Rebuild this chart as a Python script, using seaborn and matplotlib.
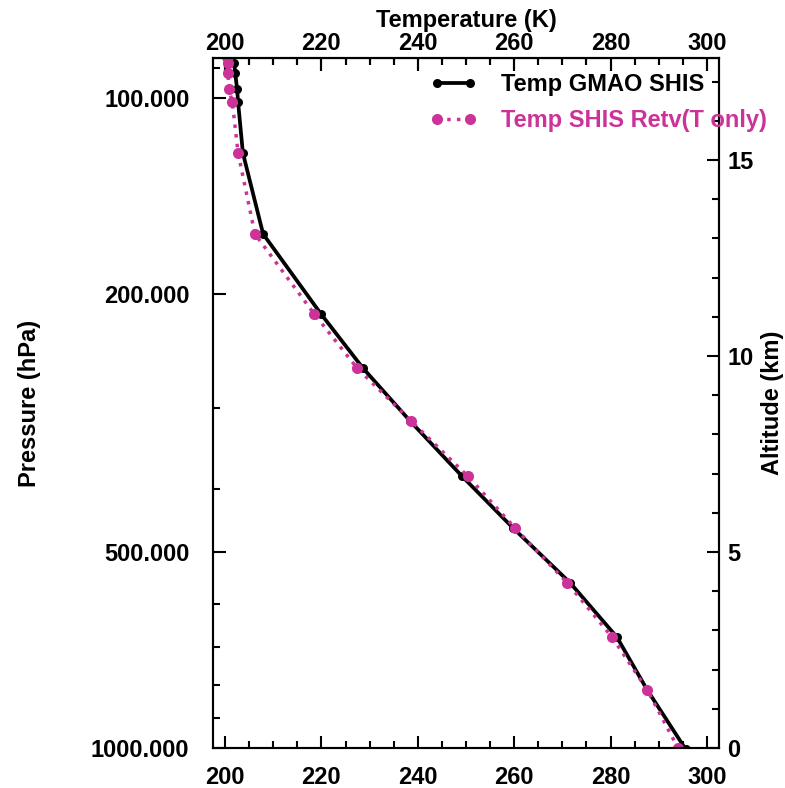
import numpy as np
import pandas as pd
import matplotlib
matplotlib.use("Agg")
import matplotlib.pyplot as plt
import matplotlib.ticker as mticker
import seaborn as sns

# Data
pressure_gmao = [88.3, 91.5, 96.9, 101.4, 121.5, 161.9, 214.9, 260.3, 314.0, 382.0, 459.0, 557.0, 675.0, 814.0, 1005.0]
temp_gmao = [201.9, 202.1, 202.5, 202.7, 203.7, 207.9, 219.9, 228.6, 238.4, 249.2, 259.8, 271.6, 281.3, 287.6, 295.6]
pressure_retv = [86.5, 88.3, 91.5, 96.9, 101.4, 121.5, 161.9, 214.9, 260.3, 314.0, 382.0, 459.0, 557.0, 675.0, 814.0, 1000.0]
temp_retv = [200.5, 200.6, 200.6, 200.8, 201.5, 202.7, 206.2, 218.5, 227.4, 238.6, 250.4, 260.2, 271.0, 280.3, 287.6, 294.0]
label_gmao = "Temp GMAO SHIS"
label_retv = "Temp SHIS Retv(T only)"
p_ticks = [100, 200, 500, 1000]
p_ticklabels = ["100.000", "200.000", "500.000", "1000.000"]
t_ticks = [200, 220, 240, 260, 280, 300]
alt_ticks = [0, 5, 10, 15]

black = "#000000"
magenta = "#CC3399"

sns.set_style("ticks")
plt.rcParams['font.family'] = ['Liberation Sans', 'DejaVu Sans']
plt.rcParams['font.weight'] = 'bold'
plt.rcParams['axes.labelweight'] = 'bold'
for k in ['text.color', 'axes.labelcolor', 'xtick.color', 'ytick.color', 'axes.edgecolor']:
    plt.rcParams[k] = 'black'

FS = 17

fig = plt.figure(figsize=(7.85, 7.88), dpi=100)
ax = fig.add_axes([213/785, 1-748/788, (719-213)/785, (748-58)/788])

df1 = pd.DataFrame({"T": temp_gmao, "p": pressure_gmao})
df2 = pd.DataFrame({"T": temp_retv, "p": pressure_retv})

sns.lineplot(data=df1, x="T", y="p", sort=False, estimator=None, ax=ax,
             color=black, lw=2.7, marker="o", markersize=6.5, markeredgewidth=0,
             label=label_gmao)
sns.lineplot(data=df2, x="T", y="p", sort=False, estimator=None, ax=ax,
             color=magenta, lw=2.5, linestyle=(0, (1, 1.8)), marker="o", markersize=8,
             markeredgewidth=0, label=label_retv)

ax.set_yscale("log")
ax.set_ylim(1000, 86.8)
ax.set_xlim(197.5, 302.5)
ax.set_yticks(p_ticks)
ax.set_yticklabels(p_ticklabels)
ax.yaxis.set_minor_locator(mticker.LogLocator(base=10, subs=np.arange(2, 10)))
ax.yaxis.set_minor_formatter(mticker.NullFormatter())
ax.set_xticks(t_ticks)
ax.xaxis.set_minor_locator(mticker.MultipleLocator(5))
ax.set_ylabel("Pressure (hPa)", fontsize=FS, fontweight="bold", labelpad=36)
ax.set_xlabel("")

ax.tick_params(axis="both", which="major", direction="in", length=9, width=1.5,
               labelsize=FS, top=True)
ax.tick_params(axis="both", which="minor", direction="in", length=5, width=1.5, top=True)
ax.tick_params(axis="y", which="major", pad=17)
ax.tick_params(axis="x", which="major", pad=13)
for s in ax.spines.values():
    s.set_linewidth(1.5)

# top axis
axt = ax.secondary_xaxis("top")
axt.set_xticks(t_ticks)
axt.xaxis.set_minor_locator(mticker.MultipleLocator(5))
axt.tick_params(which="major", direction="in", length=9, width=1.5, labelsize=FS, pad=2)
axt.tick_params(which="minor", direction="in", length=5, width=1.5)
axt.set_xlabel("Temperature (K)", fontsize=FS, fontweight="bold", labelpad=4)
for lab in axt.get_xticklabels():
    lab.set_fontweight("bold")

# right altitude axis
axr = ax.twinx()
axr.set_ylim(0, 17.6)
axr.set_yticks(alt_ticks)
axr.yaxis.set_minor_locator(mticker.MultipleLocator(1))
axr.tick_params(which="major", direction="in", length=9, width=1.5, labelsize=FS, pad=6)
axr.tick_params(which="minor", direction="in", length=5, width=1.5)
axr.set_ylabel("Altitude (km)", fontsize=FS, fontweight="bold", labelpad=5)
for s in axr.spines.values():
    s.set_linewidth(1.5)

for lab in ax.get_xticklabels() + ax.get_yticklabels() + axr.get_yticklabels():
    lab.set_fontweight("bold")

ax.get_legend().remove()
h, l = ax.get_legend_handles_labels()
leg = fig.legend(h, l, loc="upper left", bbox_to_anchor=(430/785, 1-73/788),
                 frameon=False, handlelength=2.0, handletextpad=1.0,
                 labelspacing=0.55, borderpad=0, borderaxespad=0, numpoints=2,
                 prop={"weight": "bold", "size": FS})
for txt, c in zip(leg.get_texts(), [black, magenta]):
    txt.set_color(c)

fig.savefig("out.png", dpi=100)
